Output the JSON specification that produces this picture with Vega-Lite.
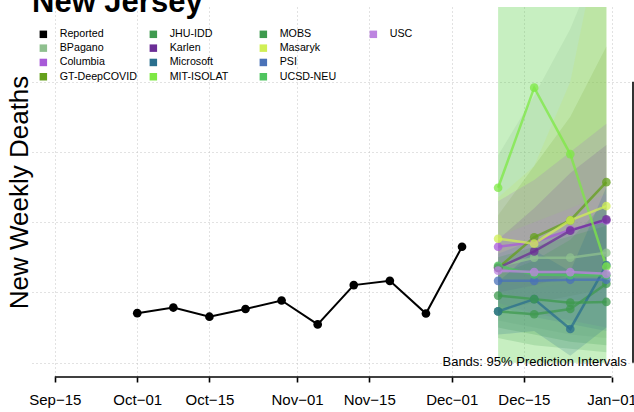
{
  "$schema": "https://vega.github.io/schema/vega-lite/v6.json",
  "autosize": {"type": "none"},
  "width": 601,
  "height": 370,
  "padding": {"left": 32, "top": 7, "right": 1, "bottom": 35},
  "title": {"text": "New Jersey", "anchor": "start", "frame": "group", "fontSize": 31, "fontWeight": "bold", "font": "Liberation Sans", "color": "#000000", "baseline": "alphabetic", "offset": -36},
  "datasets": {
    "series": [
      {"model": "Reported", "date": "2020-10-01", "value": 141},
      {"model": "Reported", "date": "2020-10-08", "value": 157},
      {"model": "Reported", "date": "2020-10-15", "value": 131},
      {"model": "Reported", "date": "2020-10-22", "value": 153},
      {"model": "Reported", "date": "2020-10-29", "value": 177},
      {"model": "Reported", "date": "2020-11-05", "value": 109},
      {"model": "Reported", "date": "2020-11-12", "value": 221},
      {"model": "Reported", "date": "2020-11-19", "value": 233},
      {"model": "Reported", "date": "2020-11-26", "value": 140},
      {"model": "Reported", "date": "2020-12-03", "value": 330},
      {"model": "BPagano", "date": "2020-12-10", "value": 274},
      {"model": "BPagano", "date": "2020-12-17", "value": 299},
      {"model": "BPagano", "date": "2020-12-24", "value": 299},
      {"model": "BPagano", "date": "2020-12-31", "value": 313},
      {"model": "Columbia", "date": "2020-12-10", "value": 330},
      {"model": "Columbia", "date": "2020-12-17", "value": 343},
      {"model": "Columbia", "date": "2020-12-24", "value": 378},
      {"model": "Columbia", "date": "2020-12-31", "value": 405},
      {"model": "GT-DeepCOVID", "date": "2020-12-10", "value": 270},
      {"model": "GT-DeepCOVID", "date": "2020-12-17", "value": 357},
      {"model": "GT-DeepCOVID", "date": "2020-12-24", "value": 405},
      {"model": "GT-DeepCOVID", "date": "2020-12-31", "value": 514},
      {"model": "JHU-IDD", "date": "2020-12-10", "value": 146},
      {"model": "JHU-IDD", "date": "2020-12-17", "value": 138},
      {"model": "JHU-IDD", "date": "2020-12-24", "value": 153},
      {"model": "JHU-IDD", "date": "2020-12-31", "value": 225},
      {"model": "Karlen", "date": "2020-12-10", "value": 270},
      {"model": "Karlen", "date": "2020-12-17", "value": 317},
      {"model": "Karlen", "date": "2020-12-24", "value": 376},
      {"model": "Karlen", "date": "2020-12-31", "value": 408},
      {"model": "Microsoft", "date": "2020-12-10", "value": 146},
      {"model": "Microsoft", "date": "2020-12-17", "value": 181},
      {"model": "Microsoft", "date": "2020-12-24", "value": 96},
      {"model": "Microsoft", "date": "2020-12-31", "value": 278},
      {"model": "MIT-ISOLAT", "date": "2020-12-10", "value": 498},
      {"model": "MIT-ISOLAT", "date": "2020-12-17", "value": 783},
      {"model": "MIT-ISOLAT", "date": "2020-12-24", "value": 594},
      {"model": "MIT-ISOLAT", "date": "2020-12-31", "value": 274},
      {"model": "MOBS", "date": "2020-12-10", "value": 191},
      {"model": "MOBS", "date": "2020-12-17", "value": 181},
      {"model": "MOBS", "date": "2020-12-24", "value": 171},
      {"model": "MOBS", "date": "2020-12-31", "value": 173},
      {"model": "Masaryk", "date": "2020-12-10", "value": 353},
      {"model": "Masaryk", "date": "2020-12-17", "value": 339},
      {"model": "Masaryk", "date": "2020-12-24", "value": 405},
      {"model": "Masaryk", "date": "2020-12-31", "value": 446},
      {"model": "PSI", "date": "2020-12-10", "value": 233},
      {"model": "PSI", "date": "2020-12-17", "value": 233},
      {"model": "PSI", "date": "2020-12-24", "value": 236},
      {"model": "PSI", "date": "2020-12-31", "value": 236},
      {"model": "UCSD-NEU", "date": "2020-12-10", "value": 276},
      {"model": "UCSD-NEU", "date": "2020-12-17", "value": 251},
      {"model": "UCSD-NEU", "date": "2020-12-24", "value": 249},
      {"model": "UCSD-NEU", "date": "2020-12-31", "value": 249},
      {"model": "USC", "date": "2020-12-10", "value": 262},
      {"model": "USC", "date": "2020-12-17", "value": 258},
      {"model": "USC", "date": "2020-12-24", "value": 258},
      {"model": "USC", "date": "2020-12-31", "value": 253}
    ],
    "bands": [
      {"model": "MIT-ISOLAT", "date": "2020-12-10", "lo": 0, "hi": 1200},
      {"model": "MIT-ISOLAT", "date": "2020-12-17", "lo": 0, "hi": 1200},
      {"model": "MIT-ISOLAT", "date": "2020-12-24", "lo": 0, "hi": 1200},
      {"model": "MIT-ISOLAT", "date": "2020-12-31", "lo": 0, "hi": 1200},
      {"model": "UCSD-NEU", "date": "2020-12-10", "lo": 0, "hi": 1100},
      {"model": "UCSD-NEU", "date": "2020-12-17", "lo": 0, "hi": 1150},
      {"model": "UCSD-NEU", "date": "2020-12-24", "lo": 0, "hi": 1200},
      {"model": "UCSD-NEU", "date": "2020-12-31", "lo": 0, "hi": 1250},
      {"model": "GT-DeepCOVID", "date": "2020-12-10", "lo": 150, "hi": 420},
      {"model": "GT-DeepCOVID", "date": "2020-12-17", "lo": 170, "hi": 560},
      {"model": "GT-DeepCOVID", "date": "2020-12-24", "lo": 190, "hi": 700},
      {"model": "GT-DeepCOVID", "date": "2020-12-31", "lo": 210, "hi": 900},
      {"model": "Masaryk", "date": "2020-12-10", "lo": 230, "hi": 470},
      {"model": "Masaryk", "date": "2020-12-17", "lo": 210, "hi": 560},
      {"model": "Masaryk", "date": "2020-12-24", "lo": 230, "hi": 800},
      {"model": "Masaryk", "date": "2020-12-31", "lo": 240, "hi": 1300},
      {"model": "Karlen", "date": "2020-12-10", "lo": 200, "hi": 350},
      {"model": "Karlen", "date": "2020-12-17", "lo": 220, "hi": 440},
      {"model": "Karlen", "date": "2020-12-24", "lo": 250, "hi": 540},
      {"model": "Karlen", "date": "2020-12-31", "lo": 260, "hi": 620},
      {"model": "Columbia", "date": "2020-12-10", "lo": 200, "hi": 460},
      {"model": "Columbia", "date": "2020-12-17", "lo": 180, "hi": 520},
      {"model": "Columbia", "date": "2020-12-24", "lo": 180, "hi": 600},
      {"model": "Columbia", "date": "2020-12-31", "lo": 170, "hi": 680},
      {"model": "USC", "date": "2020-12-10", "lo": 170, "hi": 360},
      {"model": "USC", "date": "2020-12-17", "lo": 140, "hi": 400},
      {"model": "USC", "date": "2020-12-24", "lo": 120, "hi": 440},
      {"model": "USC", "date": "2020-12-31", "lo": 100, "hi": 480},
      {"model": "PSI", "date": "2020-12-10", "lo": 160, "hi": 310},
      {"model": "PSI", "date": "2020-12-17", "lo": 130, "hi": 350},
      {"model": "PSI", "date": "2020-12-24", "lo": 110, "hi": 380},
      {"model": "PSI", "date": "2020-12-31", "lo": 90, "hi": 410},
      {"model": "BPagano", "date": "2020-12-10", "lo": 120, "hi": 590},
      {"model": "BPagano", "date": "2020-12-17", "lo": 100, "hi": 760},
      {"model": "BPagano", "date": "2020-12-24", "lo": 80, "hi": 950},
      {"model": "BPagano", "date": "2020-12-31", "lo": 70, "hi": 1200},
      {"model": "MOBS", "date": "2020-12-10", "lo": 100, "hi": 300},
      {"model": "MOBS", "date": "2020-12-17", "lo": 80, "hi": 330},
      {"model": "MOBS", "date": "2020-12-24", "lo": 60, "hi": 360},
      {"model": "MOBS", "date": "2020-12-31", "lo": 50, "hi": 390},
      {"model": "JHU-IDD", "date": "2020-12-10", "lo": 70, "hi": 250},
      {"model": "JHU-IDD", "date": "2020-12-17", "lo": 50, "hi": 290},
      {"model": "JHU-IDD", "date": "2020-12-24", "lo": 40, "hi": 350},
      {"model": "JHU-IDD", "date": "2020-12-31", "lo": 30, "hi": 460},
      {"model": "Microsoft", "date": "2020-12-10", "lo": 80, "hi": 230},
      {"model": "Microsoft", "date": "2020-12-17", "lo": 90, "hi": 320},
      {"model": "Microsoft", "date": "2020-12-24", "lo": 20, "hi": 260},
      {"model": "Microsoft", "date": "2020-12-31", "lo": 100, "hi": 500}
    ]
  },
  "layer": [
    {
      "data": {"name": "bands"},
      "mark": {"type": "area", "clip": true, "fillOpacity": 0.2},
      "encoding": {
        "x": {
          "field": "date", "type": "temporal", "title": null,
          "scale": {"type": "utc", "domain": [{"year": 2020, "month": 9, "date": 10, "hours": 14, "utc": true}, {"year": 2021, "month": 1, "date": 5, "hours": 4, "utc": true}]},
          "axis": {
            "format": "%b−%d",
            "values": [
              {"year": 2020, "month": 9, "date": 15, "utc": true},
              {"year": 2020, "month": 10, "date": 1, "utc": true},
              {"year": 2020, "month": 10, "date": 15, "utc": true},
              {"year": 2020, "month": 11, "date": 1, "utc": true},
              {"year": 2020, "month": 11, "date": 15, "utc": true},
              {"year": 2020, "month": 12, "date": 1, "utc": true},
              {"year": 2020, "month": 12, "date": 15, "utc": true},
              {"year": 2021, "month": 1, "date": 1, "utc": true}
            ]
          }
        },
        "y": {
          "field": "lo", "type": "quantitative", "title": "New Weekly Deaths",
          "scale": {"domain": [-40.7, 1012.7], "nice": false, "zero": false},
          "axis": {"values": [0, 200, 400, 600, 800]}
        },
        "y2": {"field": "hi"},
        "color": {
          "field": "model", "type": "nominal",
          "scale": {
            "domain": ["Reported", "BPagano", "Columbia", "GT-DeepCOVID", "JHU-IDD", "Karlen", "Microsoft", "MIT-ISOLAT", "MOBS", "Masaryk", "PSI", "UCSD-NEU", "USC", " ", "  ", "   "],
            "range": ["#000000", "#8fc08f", "#a85ad8", "#64a01c", "#3f9a4f", "#6b2e96", "#2a6f8e", "#7ee844", "#3d9a4d", "#d0ef55", "#4a72b8", "#4fc45f", "#bd84e0", "transparent", "transparent", "transparent"]
          },
          "legend": {
            "title": null, "orient": "none", "legendX": 6, "legendY": 21.5,
            "direction": "vertical", "columns": 4, "gridAlign": "all", "columnPadding": 11, "rowPadding": 2.3,
            "symbolType": "square", "symbolSize": 56, "symbolStrokeWidth": 0,
            "labelFont": "Liberation Sans", "labelFontSize": 10.7, "labelColor": "#000000", "labelOffset": 11,
            "padding": 0,
            "encode": {"symbols": {"update": {"fill": {"scale": "color", "field": "value"}, "fillOpacity": {"value": 1}, "opacity": {"value": 1}, "stroke": {"value": "transparent"}}}}
          }
        }
      }
    },
    {
      "data": {"name": "series"},
      "transform": [{"filter": "datum.model !== 'Reported'"}],
      "mark": {"type": "line", "strokeWidth": 2.5, "opacity": 0.75},
      "encoding": {
        "x": {"field": "date", "type": "temporal", "title": null},
        "y": {"field": "value", "type": "quantitative", "title": "New Weekly Deaths"},
        "color": {"field": "model", "type": "nominal"}
      }
    },
    {
      "data": {"name": "series"},
      "transform": [{"filter": "datum.model !== 'Reported'"}],
      "mark": {"type": "point", "filled": true, "size": 75, "opacity": 0.75},
      "encoding": {
        "x": {"field": "date", "type": "temporal", "title": null},
        "y": {"field": "value", "type": "quantitative", "title": "New Weekly Deaths"},
        "color": {"field": "model", "type": "nominal"}
      }
    },
    {
      "data": {"name": "series"},
      "transform": [{"filter": "datum.model === 'Reported'"}],
      "mark": {"type": "line", "strokeWidth": 2},
      "encoding": {
        "x": {"field": "date", "type": "temporal", "title": null},
        "y": {"field": "value", "type": "quantitative", "title": "New Weekly Deaths"},
        "color": {"field": "model", "type": "nominal"}
      }
    },
    {
      "data": {"name": "series"},
      "transform": [{"filter": "datum.model === 'Reported'"}],
      "mark": {"type": "point", "filled": true, "size": 75, "opacity": 1},
      "encoding": {
        "x": {"field": "date", "type": "temporal", "title": null},
        "y": {"field": "value", "type": "quantitative", "title": "New Weekly Deaths"},
        "color": {"field": "model", "type": "nominal"}
      }
    },
    {
      "data": {"values": [{}]},
      "mark": {"type": "rule", "strokeWidth": 1.6, "color": "#000000"},
      "encoding": {
        "x": {"datum": {"year": 2020, "month": 9, "date": 15, "utc": true}, "type": "temporal"},
        "x2": {"datum": {"year": 2021, "month": 1, "date": 1, "utc": true}},
        "y": {"datum": -40.7, "type": "quantitative"}
      }
    },
    {
      "data": {"values": [{}]},
      "mark": {"type": "rule", "strokeWidth": 1.6, "color": "#000000"},
      "encoding": {
        "x": {"datum": {"year": 2021, "month": 1, "date": 5, "hours": 4, "utc": true}, "type": "temporal"},
        "y": {"datum": 0, "type": "quantitative"},
        "y2": {"datum": 800}
      }
    },
    {
      "data": {"values": [{}]},
      "mark": {"type": "text", "text": "Bands: 95% Prediction Intervals", "align": "right", "baseline": "middle", "fontSize": 13, "font": "Liberation Sans", "color": "#000000"},
      "encoding": {
        "x": {"datum": {"year": 2021, "month": 1, "date": 3, "hours": 23, "utc": true}, "type": "temporal"},
        "y": {"datum": 2, "type": "quantitative"}
      }
    }
  ],
  "config": {
    "view": {"stroke": null},
    "font": "Liberation Sans",
    "axisX": {
      "domain": false, "ticks": true, "tickColor": "#000000", "tickWidth": 1.6, "tickSize": 5,
      "labelFont": "Liberation Sans", "labelFontSize": 15, "labelColor": "#000000", "labelPadding": 10,
      "labelFlush": false, "labelBound": false, "labelOverlap": false,
      "grid": true, "gridColor": "#c4c4c4", "gridDash": [1, 3], "gridWidth": 1
    },
    "axisY": {
      "domain": false, "ticks": false, "labels": false,
      "grid": true, "gridColor": "#c4c4c4", "gridDash": [1, 3], "gridWidth": 1,
      "titleFont": "Liberation Sans", "titleFontSize": 26, "titleFontWeight": "normal", "titleColor": "#000000", "titlePadding": 0
    }
  }
}
